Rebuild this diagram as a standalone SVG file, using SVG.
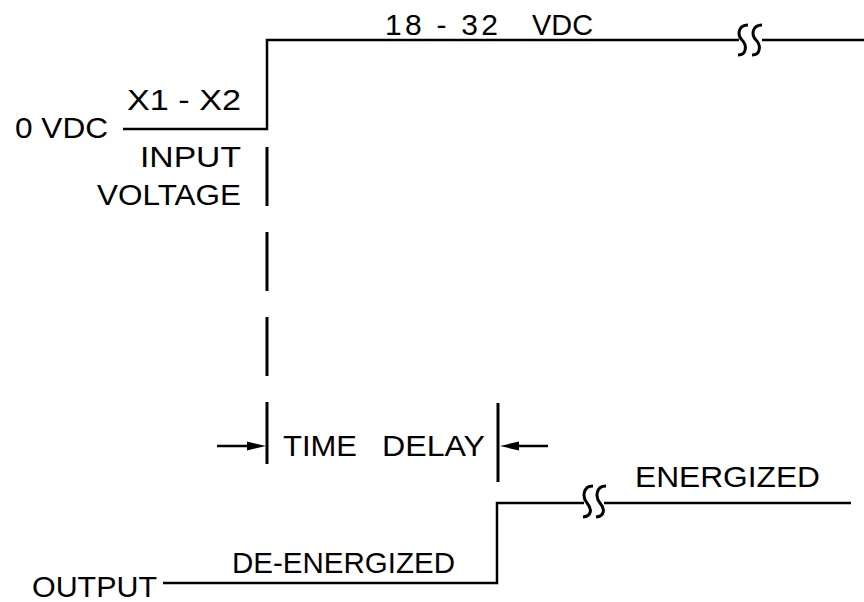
<svg xmlns="http://www.w3.org/2000/svg" width="864" height="602" viewBox="0 0 864 602">
<style>
.ln{fill:none;stroke:#000;stroke-width:2.5;stroke-linecap:butt}
.dash{fill:none;stroke:#000;stroke-width:3;stroke-dasharray:59 26}
.brk{fill:none;stroke:#000;stroke-width:3}
.t{font-family:"Liberation Sans",Arial,sans-serif;font-size:30px;fill:#000}
</style>
<rect width="864" height="602" fill="#fff"/>
<g id="connectors">
<polyline class="ln" points="123,129 267,129 267,40 739,40"/>
<line class="ln" x1="762" y1="40" x2="864" y2="40"/>
<path class="brk" d="M748,25 C738,25 737,35 742,40 C747,45 747,55 738,55"/>
<path class="brk" d="M762,25 C752,25 751,35 756,40 C761,45 761,55 752,55"/>
<line class="dash" x1="267" y1="147" x2="267" y2="403"/>
<line class="ln" x1="267" y1="403" x2="267" y2="464" style="stroke-width:3"/>
<line class="ln" x1="498" y1="403" x2="498" y2="482" style="stroke-width:3"/>
<line class="ln" x1="217" y1="446" x2="250" y2="446"/>
<polygon points="247,441.5 266,446 247,450.5" fill="#000"/>
<line class="ln" x1="548" y1="446" x2="516" y2="446"/>
<polygon points="519,441.5 500,446 519,450.5" fill="#000"/>
<polyline class="ln" points="163,583 497,583 497,503 584,503"/>
<line class="ln" x1="604" y1="503" x2="851" y2="503"/>
<path class="brk" d="M593,486 C583,486 582,497 587,503 C592,509 592,516 583,517"/>
<path class="brk" d="M606,486 C596,486 595,497 600,503 C605,509 605,516 596,517"/>
</g>
<g id="input">
<text class="t" x="15" y="138" textLength="93" lengthAdjust="spacingAndGlyphs">0 VDC</text>
<text class="t" x="127" y="110" textLength="114" lengthAdjust="spacingAndGlyphs">X1 - X2</text>
<text class="t" x="140" y="167" textLength="101" lengthAdjust="spacingAndGlyphs">INPUT</text>
<text class="t" x="97" y="205" textLength="144" lengthAdjust="spacingAndGlyphs">VOLTAGE</text>
<text class="t" x="385" y="35" textLength="113" lengthAdjust="spacing">18 - 32</text>
<text class="t" x="532" y="35" textLength="61" lengthAdjust="spacingAndGlyphs">VDC</text>
</g>
<g id="delay">
<text class="t" x="283" y="456" textLength="74" lengthAdjust="spacingAndGlyphs">TIME</text>
<text class="t" x="382" y="456" textLength="103" lengthAdjust="spacingAndGlyphs">DELAY</text>
</g>
<g id="output">
<text class="t" x="635" y="487" textLength="185" lengthAdjust="spacingAndGlyphs">ENERGIZED</text>
<text class="t" x="232" y="573" textLength="223" lengthAdjust="spacingAndGlyphs">DE-ENERGIZED</text>
<text class="t" x="32" y="597" textLength="125" lengthAdjust="spacingAndGlyphs">OUTPUT</text>
</g>
</svg>
